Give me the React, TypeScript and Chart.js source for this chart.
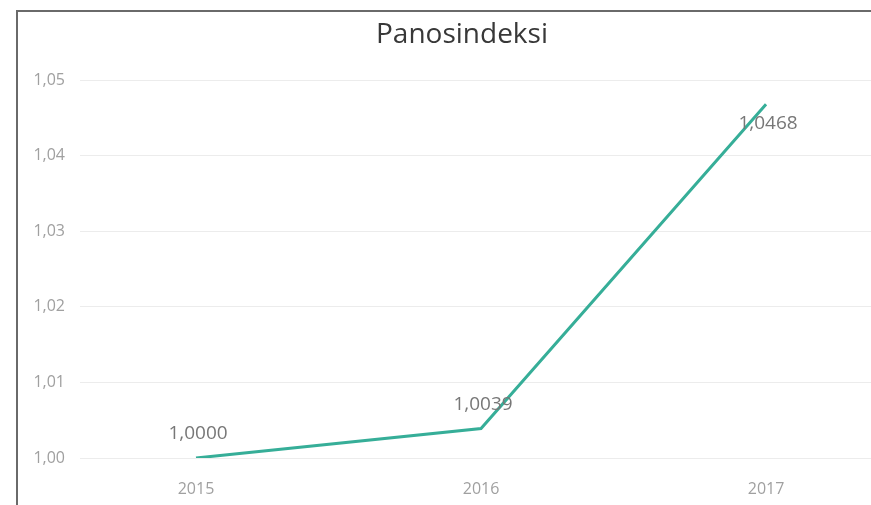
import React, { useEffect, useRef } from "react";
import { Chart, registerables } from "chart.js";

Chart.register(...registerables);

const years = [2015, 2016, 2017];
const indexValues = [1.0, 1.0039, 1.0468];
const valueLabels = ["1,0000", "1,0039", "1,0468"];
const yTicks = [1.0, 1.01, 1.02, 1.03, 1.04, 1.05];
const chartTitle = "Panosindeksi";

const X_MIN = 2014.593;
const X_MAX = 2017.491;
const Y_MIN = 1.0;
const Y_MAX = 1.05;

const FONT = "'Open Sans', 'Noto Sans', sans-serif";

const dataLabelPlugin = {
  id: "dataLabels",
  afterDatasetsDraw(chart: any) {
    const ctx = chart.ctx;
    const meta = chart.getDatasetMeta(0);
    const placement = ["above", "above", "below"];
    ctx.save();
    ctx.font = `19px ${FONT}`;
    ctx.fillStyle = "#777777";
    ctx.textAlign = "center";
    ctx.textBaseline = "middle";
    meta.data.forEach((pt: any, i: number) => {
      const dy = placement[i] === "above" ? -24 : 19;
      ctx.fillText(valueLabels[i], pt.x + 2, pt.y + dy);
    });
    ctx.restore();
  },
};

export default function App() {
  const ref = useRef<HTMLCanvasElement | null>(null);

  useEffect(() => {
    if (!ref.current) return;
    const chart = new Chart(ref.current, {
      type: "line",
      data: {
        datasets: [
          {
            data: years.map((y, i) => ({ x: y, y: indexValues[i] })),
            borderColor: "#36ae98",
            borderWidth: 3,
            pointRadius: 0,
            tension: 0,
            fill: false,
          },
        ],
      },
      options: {
        animation: false,
        responsive: false,
        layout: { padding: { left: 0, right: 0, top: 0, bottom: 0 } },
        plugins: {
          legend: { display: false },
          tooltip: { enabled: false },
          title: {
            display: true,
            text: chartTitle,
            color: "#383838",
            font: { family: FONT, size: 28, weight: "normal" },
            padding: { top: 6, bottom: 28.4 },
          },
        },
        scales: {
          x: {
            type: "linear",
            min: X_MIN,
            max: X_MAX,
            grid: { display: false, drawTicks: false },
            border: { display: false },
            afterBuildTicks: (scale: any) => {
              scale.ticks = years.map((v) => ({ value: v }));
            },
            afterFit: (scale: any) => {
              scale.height = 47;
            },
            ticks: {
              padding: 22,
              color: "#a0a0a0",
              font: { family: FONT, size: 16 },
              callback: (v: any) => String(v),
              maxRotation: 0,
              autoSkip: false,
            },
          },
          y: {
            min: Y_MIN,
            max: Y_MAX,
            grid: { color: "#ececec", lineWidth: 1, drawTicks: false },
            border: { display: false },
            afterBuildTicks: (scale: any) => {
              scale.ticks = yTicks.map((v) => ({ value: v }));
            },
            afterFit: (scale: any) => {
              scale.width = 62;
            },
            ticks: {
              padding: 15,
              color: "#a0a0a0",
              font: { family: FONT, size: 16 },
              callback: (v: any) => Number(v).toFixed(2).replace(".", ","),
            },
          },
        },
      },
      plugins: [dataLabelPlugin],
    });
    return () => chart.destroy();
  }, []);

  return (
    <div
      style={{
        position: "fixed",
        left: 0,
        top: 0,
        width: 871,
        height: 505,
        overflow: "hidden",
        background: "#ffffff",
      }}
    >
      <div
        style={{
          position: "absolute",
          left: 16,
          top: 10,
          width: 900,
          height: 600,
          borderLeft: "2px solid #6a6a6a",
          borderTop: "2px solid #6a6a6a",
          boxSizing: "border-box",
        }}
      />
      <canvas
        ref={ref}
        width={888}
        height={493}
        style={{ position: "absolute", left: 18, top: 12, width: 888, height: 493 }}
      />
    </div>
  );
}
